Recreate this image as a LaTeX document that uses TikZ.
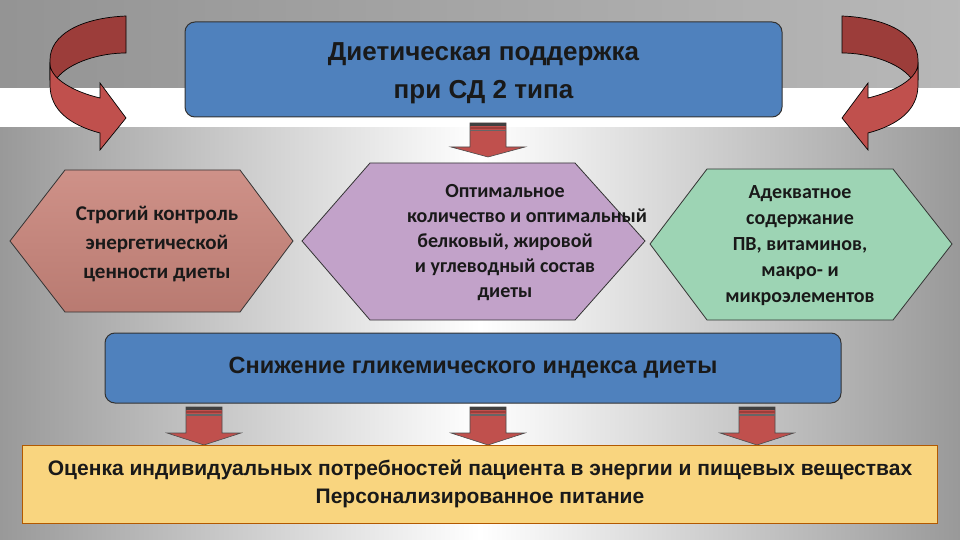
\documentclass[tikz,border=0pt]{standalone}
\usepackage{fontspec}
\setmainfont{Liberation Sans}
\newfontfamily\calib{Carlito}
\begin{document}
\begin{tikzpicture}[x=1pt,y=-1pt,
  hexa/.style={draw=black!80,line width=0.8pt},
  bluebox/.style={draw=black!80,line width=1pt,fill=blue1,rounded corners=10pt},
  redarr/.style={fill=red1,draw=black!70,line width=0.6pt},
  ttl/.style={font=\bfseries,align=center,text=black!90}]
\definecolor{blue1}{HTML}{4F81BD}
\definecolor{red1}{HTML}{C0504D}
\definecolor{red2}{HTML}{9C3D3A}
\definecolor{hexl}{HTML}{C9857B}
\definecolor{hexm}{HTML}{C2A2C9}
\definecolor{hexr}{HTML}{9DD4B4}
\definecolor{boty}{HTML}{F9D57F}
\useasboundingbox (0,0) rectangle (960,540);
% background
\shade[left color=black!42,right color=black!28] (0,0) rectangle (960,88);
\fill[white] (0,88) rectangle (960,128);
\shade[left color=black!40,right color=white] (0,128) rectangle (480,540);
\shade[left color=white,right color=black!40] (480,128) rectangle (960,540);
% curved arrows
\foreach \s/\o in {1/0,-1/968}{
\begin{scope}[xshift=\o pt, xscale=\s]
\fill[red2,draw=black,line width=0.7pt] (126,16) .. controls (80,18) and (50,35) .. (50,60) -- (50,80) -- (57,78) .. controls (70,62) and (100,53) .. (126,53) -- cycle;
\fill[red1,draw=black,line width=0.7pt] (50,65) .. controls (52,80) and (75,92) .. (100,98) -- (100,83) -- (126,118) -- (100,150) -- (100,133) .. controls (70,125) and (50,110) .. (50,85) -- cycle;
\end{scope}}
% top box
\node[bluebox,minimum width=597pt,minimum height=95pt] (top) at (483.5,69.5) {};
\node[ttl,font=\bfseries\fontsize{26}{38}\selectfont] at (483.5,73) {Диетическая поддержка\\при СД 2 типа};
% down arrows
\foreach \cx/\ty/\hy/\ey [count=\i] in {488/123/147/157, 204/407/433/445, 488/407/433/445, 757/407/433/445}{
  \fill[redarr] (\cx-18,\ty) -- (\cx+18,\ty) -- (\cx+18,\hy) -- (\cx+37,\hy) -- (\cx,\ey) -- (\cx-37,\hy) -- (\cx-18,\hy) -- cycle;
  \fill[black!75] (\cx-18,\ty) rectangle (\cx+18,\ty+3);
  \fill[red2] (\cx-18,\ty+4) rectangle (\cx+18,\ty+6);
  \fill[black!60] (\cx-18,\ty+7) rectangle (\cx+18,\ty+8.5);
}
% hexagons
\shade[hexa,top color=hexl!90!white,bottom color=hexl!92!black] (10,241) -- (65,170) -- (240,170) -- (293,241) -- (240,312) -- (65,312) -- cycle;
\node[ttl,font=\calib\bfseries\fontsize{21}{29}\selectfont] (h1) at (157,244) {Строгий контроль\\энергетической\\ценности диеты};
\fill[hexa,fill=hexm] (302,241) -- (370,163) -- (575,163) -- (645,241) -- (575,320) -- (370,320) -- cycle;
\node[ttl,font=\calib\bfseries\fontsize{20}{25}\selectfont] (h2) at (505,243) {Оптимальное\\\hspace*{2.2em}количество и оптимальный\\белковый, жировой\\и углеводный состав\\диеты};
\fill[hexa,fill=hexr] (650,244) -- (707,169) -- (893,169) -- (952,244) -- (893,320) -- (707,320) -- cycle;
\node[ttl,font=\calib\bfseries\fontsize{20}{26}\selectfont] (h3) at (800,246) {Адекватное\\содержание\\ПВ, витаминов,\\макро- и\\микроэлементов};
% middle blue box
\node[bluebox,minimum width=736pt,minimum height=70pt] (mid) at (473,368) {};
\node[ttl,font=\bfseries\fontsize{23.5}{28}\selectfont] at (mid) {Снижение гликемического индекса диеты};
% bottom box
\node[draw=orange!70!black,line width=0.7pt,fill=boty,minimum width=915pt,minimum height=78pt] (bot) at (480,484) {};
\node[ttl,font=\bfseries\fontsize{21}{28}\selectfont] at (bot) {Оценка индивидуальных потребностей пациента в энергии и пищевых веществах\\Персонализированное питание};
\end{tikzpicture}
\end{document}
